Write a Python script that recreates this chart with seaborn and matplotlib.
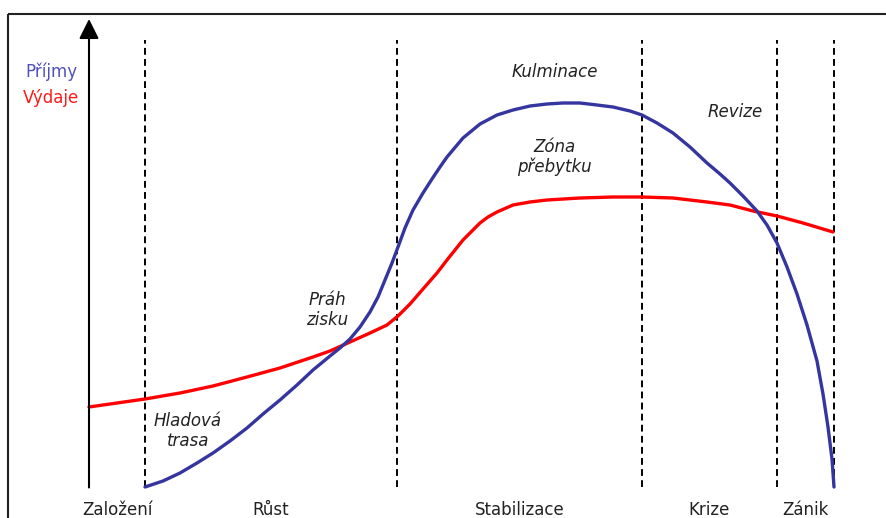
import numpy as np
import pandas as pd
import matplotlib.pyplot as plt
import seaborn as sns

# Life cycle of a firm: income (Příjmy) vs expenses (Výdaje)
# x = time, y = amount (arbitrary units)

income_t = [145, 163, 180, 197, 213, 230, 247, 263, 280, 297, 313, 330, 340, 350,
            360, 370, 378, 385, 392, 398, 405, 413, 423, 432, 440, 447, 463, 480,
            497, 513, 530, 547, 563, 580, 597, 613, 630, 642, 657, 673, 690, 707,
            720, 730, 743, 757, 767, 777, 787, 797, 807, 817, 823, 828, 832, 834]
income_v = [0, 6, 14, 24, 34, 46, 59, 73, 87, 102, 117, 131, 139, 148,
            160, 175, 190, 207, 224, 240, 259, 277, 294, 308, 320, 330, 349, 363,
            372, 377, 381, 383, 384, 384, 382, 380, 376, 372, 364, 354, 340, 324,
            313, 304, 291, 276, 262, 244, 220, 193, 162, 126, 93, 60, 28, 0]

expense_t = [89, 117, 145, 180, 213, 247, 280, 313, 330, 350, 370, 387, 398, 410,
             423, 437, 447, 455, 463, 472, 480, 488, 497, 513, 530, 547, 580, 613,
             642, 673, 707, 730, 753, 777, 803, 833]
expense_v = [80, 84, 88, 94, 101, 110, 119, 130, 136, 145, 154, 162, 171, 183,
             198, 214, 227, 237, 247, 256, 264, 270, 275, 282, 285, 287, 289, 290,
             290, 289, 285, 282, 276, 271, 264, 255]

phase_bounds = [145, 397, 642, 777, 834]
phase_names = ['Založení', 'Růst', 'Stabilizace', 'Krize', 'Zánik']
phase_label_x = [117, 271, 520, 709, 805]

notes = ['Kulminace', 'Zóna\npřebytku', 'Revize', 'Práh\nzisku', 'Hladová\ntrasa']
note_xy = [(555, 415), (554, 330), (735, 375), (327, 177), (188, 56)]

blue = '#3535a0'
red = '#ff0000'

sns.set_style('white')
plt.rcParams['font.family'] = ['DejaVu Sans']

fig = plt.figure(figsize=(8.86, 5.18), dpi=100)
ax = fig.add_axes([0, 0, 1, 1])

# outer frame (top and left visible)
ax.plot([8, 886], [473, 473], color='#222222', lw=1.5, solid_capstyle='butt')
ax.plot([8, 8], [473, -31], color='#222222', lw=1.5, solid_capstyle='butt')

# phase separators
ax.vlines(phase_bounds, 0, 447, colors='black', lw=1.4, linestyles=(0, (3.5, 2.2)))

# axes with arrows
ax.annotate('', xy=(89, 468), xytext=(89, -0.5),
            arrowprops=dict(arrowstyle='-|>', lw=1.5, color='black', mutation_scale=30,
                            shrinkA=0, shrinkB=0))
ax.annotate('', xy=(888, 0), xytext=(88, 0),
            arrowprops=dict(arrowstyle='-|>', lw=1.5, color='black', mutation_scale=30,
                            shrinkA=0, shrinkB=0))

df_inc = pd.DataFrame({'t': income_t, 'v': income_v})
df_exp = pd.DataFrame({'t': expense_t, 'v': expense_v})
sns.lineplot(data=df_exp, x='t', y='v', color=red, lw=2.4, sort=False, ax=ax,
             solid_capstyle='round', solid_joinstyle='round')
sns.lineplot(data=df_inc, x='t', y='v', color=blue, lw=2.4, sort=False, ax=ax,
             solid_capstyle='round', solid_joinstyle='round')
ax.set_xlim(0, 886)
ax.set_ylim(-31, 487)
ax.axis('off')

# legend text
ax.text(51, 415, 'Příjmy', color='#5050bb', fontsize=12, ha='center', va='center')
ax.text(51, 389, 'Výdaje', color='#ff1a1a', fontsize=12, ha='center', va='center')

for name, x in zip(phase_names, phase_label_x):
    ax.text(x, -23, name, color='#222222', fontsize=12, ha='center', va='center')

for txt, (x, y) in zip(notes, note_xy):
    ax.text(x, y, txt, color='#222222', fontsize=12, style='italic',
            ha='center', va='center', linespacing=1.15)

fig.savefig('out.png', dpi=100)
